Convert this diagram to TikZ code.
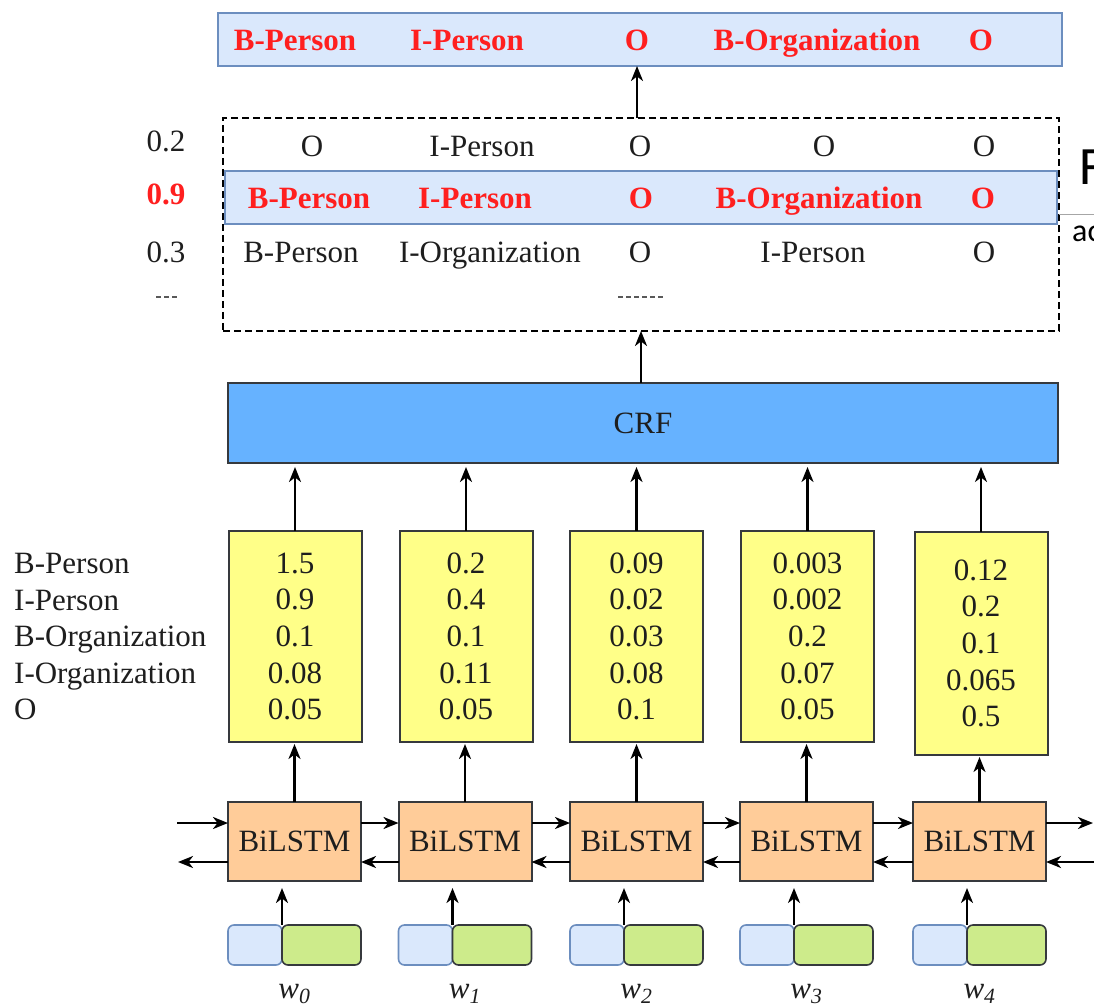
\documentclass[tikz,border=0pt]{standalone}
\usepackage{fontspec}
\setmainfont{Liberation Serif}
\newfontfamily\uifont{Carlito}
\usetikzlibrary{arrows.meta}

\definecolor{lblue}{HTML}{DAE8FC}
\definecolor{lblueline}{HTML}{6C8EBF}
\definecolor{crfblue}{HTML}{66B2FF}
\definecolor{scoreyellow}{HTML}{FFFF88}
\definecolor{lstmorange}{HTML}{FFCC99}
\definecolor{embgreen}{HTML}{CDEB8B}
\definecolor{edge}{HTML}{36393D}
\definecolor{tagred}{HTML}{FF1F1F}
\definecolor{inkgray}{HTML}{1E1E1E}

\begin{document}
\begin{tikzpicture}[x=1pt,y=-1pt,
  lbl/.style={font=\fontsize{31}{36.6}\selectfont, inner sep=0pt, text=inkgray},
  tag/.style={lbl, anchor=base},
  besttag/.style={tag, font=\fontsize{31}{36.6}\selectfont\bfseries, text=tagred},
  arr/.style={line width=2.4pt, -{Stealth[length=15pt,width=12pt,inset=4.5pt]}},
  boxline/.style={draw=edge, line width=2pt, inner sep=0pt, outer sep=0pt},
  bar/.style={draw=lblueline, fill=lblue, line width=2pt, inner sep=0pt, outer sep=0pt},
  scorebox/.style={boxline, fill=scoreyellow, minimum width=133pt, lbl, align=center},
  lstmbox/.style={boxline, fill=lstmorange, minimum width=133pt, minimum height=79pt, lbl},
  embleft/.style={draw=lblueline, fill=lblue, line width=1.6pt, rounded corners=6pt,
    minimum width=54pt, minimum height=40pt, inner sep=0pt, outer sep=0pt, anchor=north west},
  embright/.style={draw=edge, fill=embgreen, line width=1.6pt, rounded corners=6pt,
    minimum width=79pt, minimum height=40pt, inner sep=0pt, outer sep=0pt, anchor=north west},
  wordlbl/.style={lbl, anchor=base, font=\fontsize{31}{36.6}\selectfont\itshape},
  ellipsis/.style={draw=black!65, line width=1.6pt, dash pattern=on 5pt off 3pt},
]
\useasboundingbox (0,0) rectangle (1094,1008);
\clip (0,0) rectangle (1094,1008);

% ---------- decoded tag sequence ----------
\node[bar, minimum width=844pt, minimum height=53pt] (topbar) at (640,39.5) {};
\node[besttag] (o0) at (295,51) {B-Person};
\node[besttag] (o1) at (467,51) {I-Person};
\node[besttag] (o2) at (637,51) {O};
\node[besttag] (o3) at (817,51) {B-Organization};
\node[besttag] (o4) at (981,51) {O};

% ---------- candidate paths with scores ----------
\node[draw=black, dash pattern=on 7pt off 4pt, line width=1.6pt,
  minimum width=836pt, minimum height=213pt, inner sep=0pt, outer sep=0pt] (cands) at (641,224.5) {};
\node[bar, minimum width=832pt, minimum height=53pt] (best) at (641,197.5) {};

\node[tag] (p1) at (166,152) {0.2};
\node[tag] (a0) at (312,157) {O};
\node[tag] (a1) at (482,157) {I-Person};
\node[tag] (a2) at (640,157) {O};
\node[tag] (a3) at (824,157) {O};
\node[tag] (a4) at (984,157) {O};

\node[besttag] (p2) at (166,205) {0.9};
\node[besttag] (b0) at (309,209) {B-Person};
\node[besttag] (b1) at (475,209) {I-Person};
\node[besttag] (b2) at (641,209) {O};
\node[besttag] (b3) at (819,209) {B-Organization};
\node[besttag] (b4) at (983,209) {O};

\node[tag] (p3) at (166,262) {0.3};
\node[tag] (c0) at (301,262) {B-Person};
\node[tag] (c1) at (490,262) {I-Organization};
\node[tag] (c2) at (640,262) {O};
\node[tag] (c3) at (813,262) {I-Person};
\node[tag] (c4) at (984,262) {O};

% ellipsis marks
\draw[ellipsis] (156,297) -- (179,297);
\draw[ellipsis] (618,297) -- (665,297);

% ---------- CRF layer ----------
\node[boxline, fill=crfblue, minimum width=830pt, minimum height=80pt, lbl] (crf) at (643,423) {CRF};

% ---------- emission scores ----------
\node[lbl, align=left, anchor=west] (taglist) at (14,636.7)
  {B-Person\\I-Person\\B-Organization\\I-Organization\\O};

\node[scorebox, minimum height=211pt] (s0) at (295,636.5) {1.5\\0.9\\0.1\\0.08\\0.05};
\node[scorebox, minimum height=211pt] (s1) at (466,636.5) {0.2\\0.4\\0.1\\0.11\\0.05};
\node[scorebox, minimum height=211pt] (s2) at (636.5,636.5) {0.09\\0.02\\0.03\\0.08\\0.1};
\node[scorebox, minimum height=211pt] (s3) at (807.5,636.5) {0.003\\0.002\\0.2\\0.07\\0.05};
\node[scorebox, minimum height=223pt] (s4) at (981,643.5) {0.12\\0.2\\0.1\\0.065\\0.5};

% ---------- BiLSTM cells ----------
\node[lstmbox] (l0) at (294.5,841.5) {BiLSTM};
\node[lstmbox] (l1) at (465,841.5) {BiLSTM};
\node[lstmbox] (l2) at (636.5,841.5) {BiLSTM};
\node[lstmbox] (l3) at (806.5,841.5) {BiLSTM};
\node[lstmbox] (l4) at (979.5,841.5) {BiLSTM};

% ---------- word embeddings ----------
\foreach \k/\xl in {0/228,1/398.5,2/570,3/740,4/913}{
  \node[embleft] (eb\k) at (\xl,925) {};
  \node[embright] (eg\k) at (\xl+54,925) {};
}

\node[wordlbl] (w0) at (294.5,998) {w\textsubscript{0}};
\node[wordlbl] (w1) at (465,998) {w\textsubscript{1}};
\node[wordlbl] (w2) at (636.5,998) {w\textsubscript{2}};
\node[wordlbl] (w3) at (806.5,998) {w\textsubscript{3}};
\node[wordlbl] (w4) at (979.5,998) {w\textsubscript{4}};

% ---------- connectors ----------
\draw[arr] (cands.north -| o2) -- (topbar.south -| o2);
\draw[arr] (crf.north -| b2) -- (cands.south -| b2);

\foreach \k in {0,...,4}{
  \draw[arr, shorten >=4pt] (s\k.north) -- (s\k.north |- crf.south);
  \draw[arr, shorten >=2pt] (l\k.north) -- (l\k.north |- s\k.south);
  \draw[arr, shorten >=7pt] (eg\k.north west) -- (eg\k.north west |- l\k.south);
}

% recurrent links between neighbouring cells
\foreach \a/\b in {0/1,1/2,2/3,3/4}{
  \draw[arr] ([yshift=18.5pt]l\a.east) -- ([yshift=18.5pt]l\b.west);
  \draw[arr] ([yshift=-20.5pt]l\b.west) -- ([yshift=-20.5pt]l\a.east);
}
\coordinate (fwdin) at (177,823);
\coordinate (bwdout) at (178,862);
\coordinate (fwdout) at (1093,823);
\coordinate (bwdin) at (1098,862);
\draw[arr] (fwdin) -- ([yshift=18.5pt]l0.west);
\draw[arr] ([yshift=-20.5pt]l0.west) -- (bwdout);
\draw[arr] ([yshift=18.5pt]l4.east) -- (fwdout);
\draw[arr] (bwdin) -- ([yshift=-20.5pt]l4.east);

% ---------- text running off the right edge ----------
\node[anchor=base west, inner sep=0pt, font=\uifont\fontsize{54}{60}\selectfont] (edgeF) at (1079,185) {F};
\coordinate (ruleL) at (1059,215);
\coordinate (ruleR) at (1094,215);
\draw[gray!70, line width=1pt] (ruleL) -- (ruleR);
\node[anchor=base west, inner sep=0pt, font=\uifont\fontsize{32}{36}\selectfont] (edgeAc) at (1072,242) {ac};
\end{tikzpicture}
\end{document}
